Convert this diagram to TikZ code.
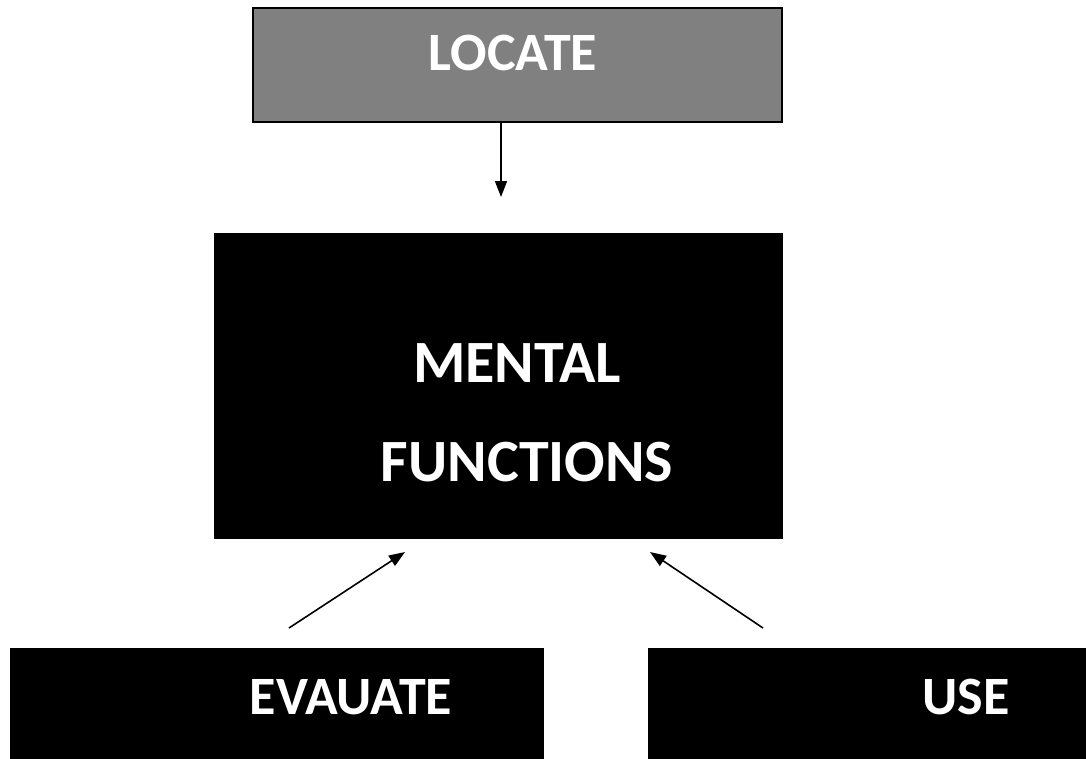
\documentclass[tikz,border=0pt]{standalone}
\usepackage{fontspec}
\setmainfont{Carlito}
\usetikzlibrary{arrows.meta}
\begin{document}
\begin{tikzpicture}[x=1pt,y=-1pt,
  box/.style={draw=black,line width=2pt,inner sep=0pt,anchor=north west},
  lbl/.style={text=white,font=\bfseries\fontsize{54}{62}\selectfont,anchor=base,inner sep=0pt},
  biglbl/.style={lbl,font=\bfseries\fontsize{60}{70}\selectfont},
  conn/.style={line width=1.6pt,-{Triangle[length=16pt,width=12pt]}}]
\useasboundingbox (0,0) rectangle (1086,758);
% boxes
\node[box,fill={rgb,255:red,128;green,128;blue,128},minimum width=529pt,minimum height=114pt] (locate) at (252,7) {};
\node[box,fill=black,minimum width=567pt,minimum height=304pt] (mental) at (214,233) {};
\node[box,fill=black,minimum width=532pt,minimum height=115pt] (evaluate) at (10,648) {};
\node[box,fill=black,minimum width=440pt,minimum height=115pt] (use) at (648,648) {};
% labels
\node[lbl] (tlocate) at (513,70) {LOCATE};
\node[biglbl] (tmental) at (517,382) {MENTAL};
\node[biglbl] (tfunctions) at (527,481) {FUNCTIONS};
\node[lbl] (tevaluate) at (351,714) {EVAUATE};
\node[lbl] (tuse) at (966,714) {USE};
% connector end points
\coordinate (locend) at (501,197);
\coordinate (evstart) at (289,628);
\coordinate (evend) at (405,552);
\coordinate (usestart) at (763,628);
\coordinate (useend) at (650,552);
\draw[conn] (locate.south -| locend) -- (locend);
\draw[conn] (evstart) -- (evend);
\draw[conn] (usestart) -- (useend);
\end{tikzpicture}
\end{document}
